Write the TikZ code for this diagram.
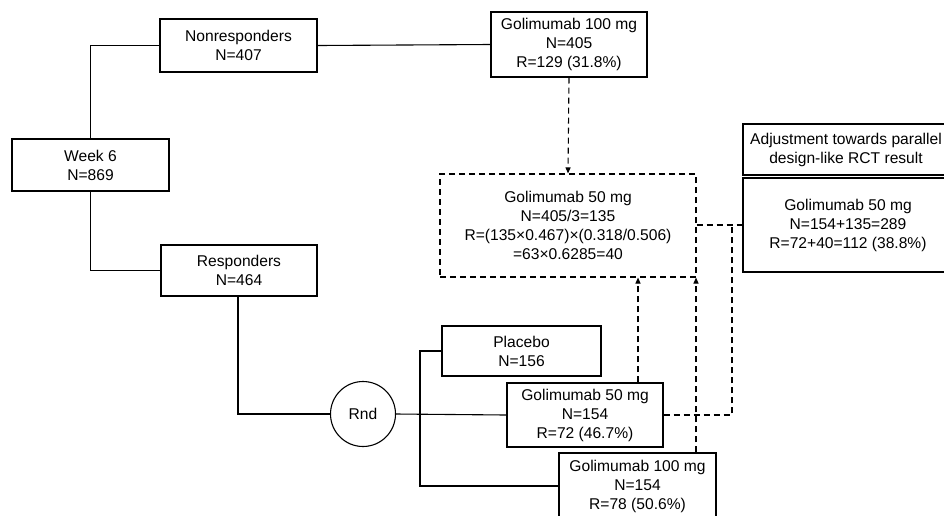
\documentclass[tikz,border=0pt]{standalone}
\usepackage{fontspec}
\setmainfont{Liberation Sans}
\usetikzlibrary{arrows.meta}
\begin{document}
\begin{tikzpicture}[x=1pt,y=-1pt, line width=1.1pt,
  box/.style={draw, align=center, inner sep=0pt,
    font=\fontsize{15.6}{19}\selectfont, fill=white},
  dsh/.style={dash pattern=on 6pt off 4pt},
  arr/.style={-{Triangle[length=6pt,width=5pt]}}]
\clip (0,0) rectangle (944,515);
\fill[white] (0,0) rectangle (944,515);
% nodes
\node[box, minimum width=157pt, minimum height=53pt] (nonresp) at (238.5,45.5) {Nonresponders\\N=407};
\node[box, minimum width=157pt, minimum height=52pt] (week6) at (90.5,165) {Week 6\\N=869};
\node[box, minimum width=156pt, minimum height=51pt] (resp) at (239,270.5) {Responders\\N=464};
\node[box, minimum width=156pt, minimum height=65pt] (g100nr) at (569,44.5) {Golimumab 100 mg\\N=405\\R=129 (31.8\%)};
\node[box, dsh, minimum width=256pt, minimum height=103pt] (g50est) at (568,225.5) {Golimumab 50 mg\\N=405/3=135\\R=(135×0.467)×(0.318/0.506)\\=63×0.6285=40};
\node[box, minimum width=206pt, minimum height=51pt] (adj) at (846,149.5) {Adjustment towards parallel\\design-like RCT result};
\node[box, minimum width=210pt, minimum height=94pt] (g50comb) at (848,225) {Golimumab 50 mg\\N=154+135=289\\R=72+40=112 (38.8\%)};
\node[box, circle, minimum size=65pt] (rnd) at (363,414) {Rnd};
\node[box, minimum width=159pt, minimum height=50pt] (placebo) at (521.5,351) {Placebo\\N=156};
\node[box, minimum width=156pt, minimum height=64pt] (g50r) at (585,415) {Golimumab 50 mg\\N=154\\R=72 (46.7\%)};
\node[box, minimum width=157pt, minimum height=66pt] (g100r) at (637.5,486) {Golimumab 100 mg\\N=154\\R=78 (50.6\%)};
% helper coordinates
\coordinate (split) at (420,414);
\coordinate (ja) at (638,0);
\coordinate (jb) at (696,0);
\coordinate (jc) at (732,225);
\coordinate (rb) at (238,0);
% solid connectors
\draw (week6.north) |- (nonresp.west);
\draw (week6.south) |- (resp.west);
\draw (nonresp.east) -- (g100nr.west);
\draw (resp.south -| rb) |- (rnd.west);
\draw (rnd.east) -- (g50r.west);
\draw (placebo.west) -| (split) |- (g100r.west);
% dashed connectors
\draw[dsh, arr] (g100nr.south) -- (g50est.north);
\draw[dsh, arr] (g50r.north -| ja) -- (g50est.south -| ja);
\draw[dsh, arr] (g100r.north -| jb) -- (g50est.south -| jb);
\draw[dsh] (g50est.east |- jc) -- (g50comb.west |- jc);
\draw[dsh] (g50r.east) -| (jc);
\end{tikzpicture}
\end{document}
